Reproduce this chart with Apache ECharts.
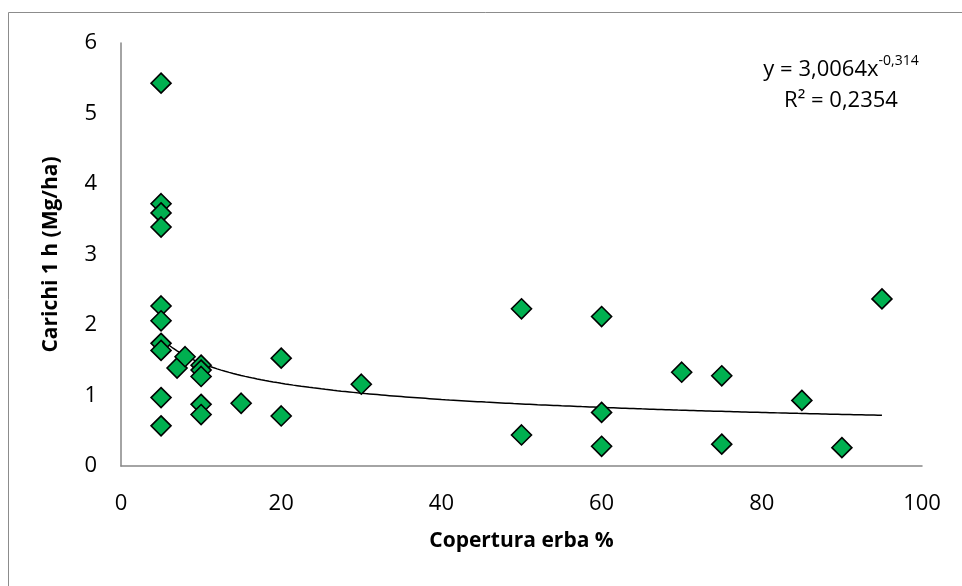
<!DOCTYPE html>
<html>
<head>
<meta charset="utf-8">
<script src="https://cdn.jsdelivr.net/npm/echarts@6/dist/echarts.min.js"></script>
<style>
  html, body { margin: 0; padding: 0; background: #fff; }
  #chart { width: 962px; height: 586px; }
</style>
</head>
<body>
<div id="chart"></div>
<script>
// Grass cover (%) and 1 h fuel loads (Mg/ha)
var coverPct = [5, 5, 5, 5, 5, 5, 5, 5, 5, 5,
                7, 8,
                10, 10, 10, 10, 10,
                15, 20, 20, 30,
                50, 50, 60, 60, 60,
                70, 75, 75, 85, 90, 95];
var load1h = [5.43, 3.72, 3.59, 3.39, 2.27, 2.06, 1.74, 1.64, 0.97, 0.57,
              1.39, 1.55,
              1.43, 1.36, 1.27, 0.875, 0.73,
              0.89, 1.53, 0.71, 1.16,
              2.23, 0.44, 2.12, 0.76, 0.28,
              1.33, 1.28, 0.31, 0.93, 0.26, 2.37];

// Power trendline y = a * x^b, as printed on the chart
var trendA = 3.0064;
var trendB = -0.314;
var trendR2 = '0,2354';
var trendFrom = 5, trendTo = 95;

var xTicks = [0, 20, 40, 60, 80, 100];
var yTicks = [0, 1, 2, 3, 4, 5, 6];

var points = coverPct.map(function (x, i) { return [x, load1h[i]]; });
var trend = [];
for (var x = trendFrom; x <= trendTo + 1e-9; x += 0.5) {
  trend.push([x, trendA * Math.pow(x, trendB)]);
}

var FONT = '"Open Sans", "Liberation Sans", sans-serif';
var AXIS_GREY = '#868686';

var chart = echarts.init(document.getElementById('chart'), null, { renderer: 'canvas' });
chart.setOption({
  backgroundColor: '#ffffff',
  animation: false,
  grid: { left: 121, top: 43, right: 40, bottom: 120 },
  xAxis: {
    type: 'value',
    min: xTicks[0], max: xTicks[xTicks.length - 1], interval: 20,
    name: 'Copertura erba %',
    nameLocation: 'middle',
    nameGap: 65,
    nameTextStyle: { fontFamily: FONT, fontSize: 21, fontWeight: 'bold', color: '#000' },
    axisLine: { lineStyle: { color: AXIS_GREY, width: 1.5 } },
    axisTick: { show: false },
    splitLine: { show: false },
    axisLabel: { fontFamily: FONT, fontSize: 22, color: '#000', margin: 27 }
  },
  yAxis: {
    type: 'value',
    min: yTicks[0], max: yTicks[yTicks.length - 1], interval: 1,
    name: 'Carichi 1 h (Mg/ha)',
    nameLocation: 'middle',
    nameGap: 59,
    nameTextStyle: { fontFamily: FONT, fontSize: 21, fontWeight: 'bold', color: '#000' },
    axisLine: { show: true, lineStyle: { color: AXIS_GREY, width: 1.5 } },
    axisTick: { show: false },
    splitLine: { show: false },
    axisLabel: { fontFamily: FONT, fontSize: 22, color: '#000', margin: 24 }
  },
  series: [
    {
      type: 'line',
      data: trend,
      showSymbol: false,
      smooth: false,
      lineStyle: { color: '#000', width: 1.5 },
      z: 2
    },
    {
      type: 'scatter',
      data: points,
      symbol: 'diamond',
      symbolSize: [20, 20],
      itemStyle: { color: '#00B050', opacity: 1, borderColor: '#000', borderWidth: 1.6 },
      z: 3
    }
  ],
  graphic: [
    {
      type: 'rect',
      shape: { x: 8.5, y: 12.5, width: 1000, height: 1000 },
      style: { fill: 'none', stroke: '#8c8c8c', lineWidth: 1 },
      silent: true
    },
    {
      type: 'text',
      x: 841, y: 54,
      style: {
        text: '{m|y = ' + String(trendA).replace('.', ',') + 'x}{s|' + String(trendB).replace('.', ',') + '}\n{m|R² = ' + trendR2 + '}',
        align: 'center',
        verticalAlign: 'top',
        rich: {
          m: { fontFamily: FONT, fontSize: 22, color: '#000', lineHeight: 31 },
          s: { fontFamily: FONT, fontSize: 14, color: '#000', lineHeight: 31, verticalAlign: 'top', padding: [0, 0, 10, 0] }
        }
      }
    }
  ]
});
</script>
</body>
</html>
